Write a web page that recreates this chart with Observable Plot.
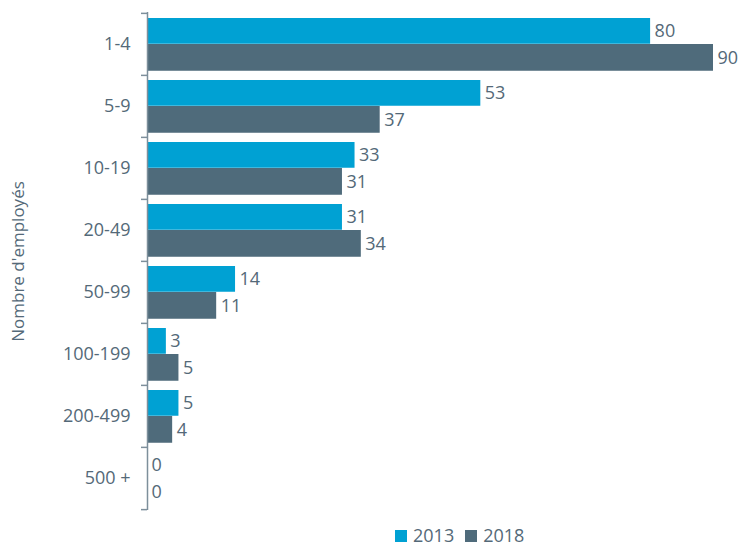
<!DOCTYPE html>
<html>
<head>
<meta charset="utf-8">
<script src="https://cdn.jsdelivr.net/npm/d3@7"></script>
<script src="https://cdn.jsdelivr.net/npm/@observablehq/plot@0.6"></script>
<style>
  body { margin: 0; background: #fff; font-family: "Open Sans", sans-serif; }
  #chart { position: relative; width: 739px; height: 546px; overflow: hidden; }
  #legend { position: absolute; left: 395px; top: 526px; height: 19px; line-height: 19px; display: flex; align-items: center; font-size: 18px; color: #546978; }
  #legend .sw { display: inline-block; width: 12px; height: 12px; margin-right: 6px; }
  #legend .item { display: flex; align-items: center; margin-right: 11px; line-height: 19px; }
</style>
</head>
<body>
<div id="chart"></div>
<script>
const categories = ["1-4", "5-9", "10-19", "20-49", "50-99", "100-199", "200-499", "500 +"];
const v2013 = [80, 53, 33, 31, 14, 3, 5, 0];
const v2018 = [90, 37, 31, 34, 11, 5, 4, 0];
const seriesNames = ["2013", "2018"];
const colors = ["#00a1d3", "#4f6b7b"];
const textColor = "#546978";
const axisColor = "#7d8f9b";

const d2013 = categories.map((c, i) => ({cat: c, value: v2013[i]}));
const d2018 = categories.map((c, i) => ({cat: c, value: v2018[i]}));

const plot = Plot.plot({
  width: 739,
  height: 518,
  marginTop: 12,
  marginBottom: 8,
  marginLeft: 147,
  marginRight: 26,
  style: {fontFamily: "Open Sans", fontSize: "18px", color: textColor, background: "#fff"},
  x: {domain: [0, 90], axis: null},
  y: {domain: categories, padding: 0, axis: null},
  marks: [
    Plot.barX(d2013, {x: "value", y: "cat", fill: colors[0], insetTop: 5, insetBottom: 31.25}),
    Plot.barX(d2018, {x: "value", y: "cat", fill: colors[1], insetTop: 31, insetBottom: 4.25}),
    Plot.text(d2013, {x: "value", y: "cat", text: d => String(d.value), dx: 4, dy: -13, textAnchor: "start", fill: textColor, fontSize: 18}),
    Plot.text(d2018, {x: "value", y: "cat", text: d => String(d.value), dx: 4, dy: 13.5, textAnchor: "start", fill: textColor, fontSize: 18}),
    Plot.text(categories, {y: d => d, text: d => d, frameAnchor: "left", textAnchor: "end", dx: -17, fill: textColor, fontSize: 18}),
    Plot.ruleX([0], {stroke: axisColor, strokeWidth: 1.5}),
    Plot.ruleY(categories, {y: d => d, x1: 0, x2: 0, insetLeft: -6, dy: -31.125, stroke: axisColor, strokeWidth: 1.5}),
    Plot.ruleY([categories[categories.length - 1]], {y: d => d, x1: 0, x2: 0, insetLeft: -6, dy: 31.125, stroke: axisColor, strokeWidth: 1.5}),
    Plot.text(["Nombre d'employés"], {frameAnchor: "left", text: d => d, rotate: -90, textAnchor: "middle", dx: -129, fill: textColor, fontSize: 17})
  ]
});
const chart = document.getElementById("chart");
chart.appendChild(plot);

const legend = document.createElement("div");
legend.id = "legend";
seriesNames.forEach((name, i) => {
  const item = document.createElement("span");
  item.className = "item";
  const sw = document.createElement("span");
  sw.className = "sw";
  sw.style.background = colors[i];
  item.appendChild(sw);
  item.appendChild(document.createTextNode(name));
  legend.appendChild(item);
});
chart.appendChild(legend);
</script>
</body>
</html>
